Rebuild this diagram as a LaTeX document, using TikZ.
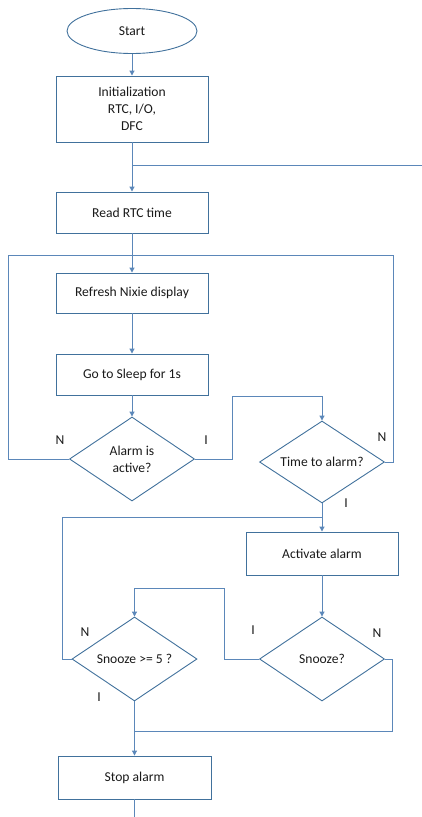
\documentclass[tikz,border=0pt]{standalone}
\usepackage{fontspec}
\setmainfont{Carlito}
\usetikzlibrary{shapes.geometric,arrows.meta}
\definecolor{boxc}{HTML}{41719C}
\definecolor{linec}{HTML}{5B87B9}
\definecolor{txtc}{HTML}{1A1A1A}
\tikzset{
  base/.style={draw=boxc, line width=0.9pt, text=txtc, font=\fontsize{13.6}{17}\selectfont, align=center, inner sep=0pt},
  proc/.style={base, rectangle, minimum width=152pt},
  term/.style={base, ellipse, minimum width=130pt, minimum height=45pt},
  dia/.style={base, diamond, minimum width=125pt, minimum height=84pt},
  txt/.style={text=txtc, font=\fontsize{13.6}{17}\selectfont, align=center, inner sep=0pt},
  lbl/.style={text=txtc, font=\fontsize{13.6}{17}\selectfont, inner sep=0pt},
  conn/.style={draw=linec, line width=1pt},
  arr/.style={conn, -{Triangle[length=5pt,width=5pt]}}
}
\begin{document}
\begin{tikzpicture}[x=1pt,y=-1pt]
\useasboundingbox (0,0) rectangle (422,817);
% nodes
\node[term] (start) at (132,31) {Start};
\node[proc, minimum height=66pt] (init) at (132,109) {Initialization\\RTC, I/O,\\DFC};
\node[proc, minimum height=41pt] (read) at (132,212.5) {Read RTC time};
\node[proc, minimum height=40pt] (refresh) at (132,293) {Refresh Nixie display};
\node[proc, minimum height=41pt] (sleep) at (132,374.5) {Go to Sleep for 1s};
\node[dia] (alarm) at (132,459) {};
\node[txt] (alarmt) at (132,459.5) {Alarm is\\active?};
\node[dia, minimum height=82pt] (time) at (322,462) {};
\node[txt] (timet) at (322,462) {Time to alarm?};
\node[proc, minimum height=43pt] (activate) at (322,553.5) {Activate alarm};
\node[dia] (snooze) at (322,659) {};
\node[txt] (snoozet) at (322,659) {Snooze?};
\node[dia] (snooze5) at (134.5,659) {};
\node[txt] (snooze5t) at (134.5,659) {Snooze >= 5 ?};
\node[proc, minimum width=153pt, minimum height=43pt] (stop) at (134.5,777.5) {Stop alarm};
% coordinates
\coordinate (j1) at (132,165);
\coordinate (r1) at (422,165);
\coordinate (jtop) at (132,255);
\coordinate (j2) at (322,517);
\coordinate (j3) at (134.5,731);
\coordinate (bend) at (134.5,817);
% connectors
\draw[arr] (start) -- (init);
\draw[arr] (init) -- (read);
\draw[conn] (j1) -- (r1);
\draw[arr] (read) -- (refresh);
\draw[arr] (refresh) -- (sleep);
\draw[arr] (sleep) -- (alarm.north);
\draw[conn] (alarm.west) -- (8,459) |- (jtop);
\draw[arr] (alarm.east) -- (232,459) -- (232,396) -| (time.north);
\draw[conn] (time.east) -- (393,462) |- (jtop);
\draw[arr] (time.south) -- (activate.north);
\draw[conn] (snooze5.west) -- (62,659) |- (j2);
\draw[arr] (activate) -- (snooze.north);
\draw[arr] (snooze.west) -- (224,659) -- (224,588) -| (snooze5.north);
\draw[conn] (snooze.east) -- (392,659) |- (j3);
\draw[arr] (snooze5.south) -- (stop.north);
\draw[conn] (stop.south) -- (bend);
% labels
\node[lbl] (n1) at (60,440) {N};
\node[lbl] (i1) at (206,440) {I};
\node[lbl] (n2) at (382,437) {N};
\node[lbl] (i2) at (346,503) {I};
\node[lbl] (n3) at (85,632) {N};
\node[lbl] (i3) at (99,697) {I};
\node[lbl] (i4) at (253,630) {I};
\node[lbl] (n4) at (377,633) {N};
\end{tikzpicture}
\end{document}
